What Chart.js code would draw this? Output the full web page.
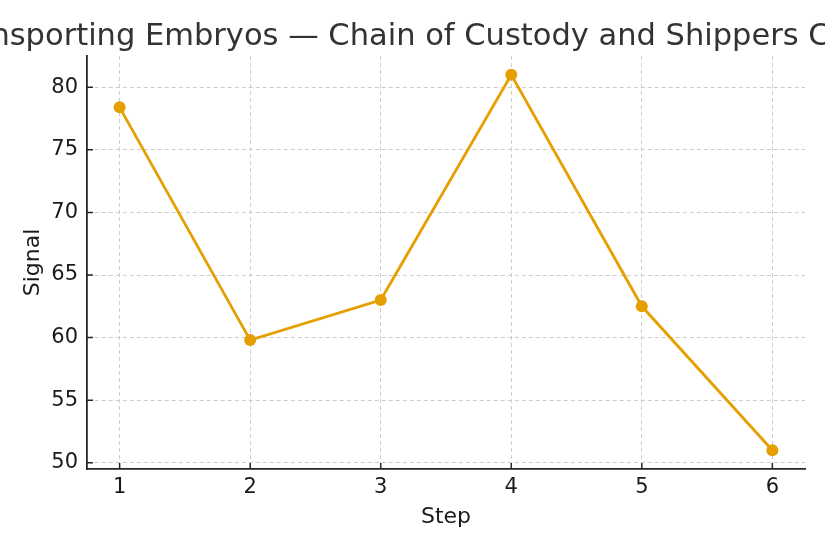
<!DOCTYPE html>
<html>
<head>
<meta charset="utf-8">
<script src="https://cdn.jsdelivr.net/npm/chart.js@4/dist/chart.umd.min.js"></script>
<style>
  html, body { margin: 0; padding: 0; background: #fff; }
  #wrap { width: 825px; height: 550px; position: relative; }
</style>
</head>
<body>
<div id="wrap"><canvas id="graph"></canvas></div>
<script>
// chart values
const titleText = 'Transporting Embryos \u2014 Chain of Custody and Shippers Checklist';
const steps = [1, 2, 3, 4, 5, 6];
const signal = [78.4, 59.8, 63.0, 81.0, 62.5, 51.0];
const yTicks = [50, 55, 60, 65, 70, 75, 80];

const FONT = "'DejaVu Sans', sans-serif";
const lineColor = '#E69F00';
const spineColor = '#262626';
const textColor = '#1a1a1a';

// title wider than the canvas, drawn without squeezing; plus inward tick marks
const extras = {
	id: 'extras',
	afterDraw(chart) {
		const ctx = chart.ctx;
		const area = chart.chartArea;
		const xs = chart.scales.x, ys = chart.scales.y;
		ctx.save();
		ctx.strokeStyle = spineColor;
		ctx.lineWidth = 1.5;
		ctx.beginPath();
		xs.ticks.forEach(function(t) {
			let px = xs.getPixelForValue(t.value);
			ctx.moveTo(px, area.bottom);
			ctx.lineTo(px, area.bottom - 6);
		});
		ys.ticks.forEach(function(t) {
			let py = ys.getPixelForValue(t.value);
			ctx.moveTo(area.left, py);
			ctx.lineTo(area.left + 6, py);
		});
		ctx.stroke();

		ctx.fillStyle = '#333333';
		ctx.font = '30.5px ' + FONT;
		ctx.textAlign = 'center';
		ctx.textBaseline = 'alphabetic';
		ctx.fillText(titleText, (area.left + area.right) / 2, 45);
		ctx.restore();
	}
};

const graphCtx = document.getElementById('graph').getContext('2d');
const chart = new Chart(graphCtx, {
	type: 'line',
	data: {
		datasets: [{
			label: 'Signal',
			data: steps.map(function(s, i) { return {x: s, y: signal[i]}; }),
			borderColor: lineColor,
			backgroundColor: lineColor,
			borderWidth: 2.8,
			pointRadius: 6,
			pointHoverRadius: 6,
			pointBorderWidth: 0,
			lineTension: 0,
			fill: false
		}]
	},
	options: {
		responsive: true,
		maintainAspectRatio: false,
		animation: false,
		layout: { padding: { top: 56, right: 20, left: 0, bottom: 0 } },
		plugins: {
			legend: { display: false },
			title: { display: false },
			tooltip: { enabled: false }
		},
		scales: {
			x: {
				type: 'linear',
				min: 0.75,
				max: 6.25,
				afterBuildTicks: function(scale) {
					scale.ticks = steps.map(function(v) { return {value: v}; });
				},
				afterFit: function(scale) { scale.height = 81; },
				grid: {
					color: '#cccccc',
					lineWidth: 1,
					drawTicks: false
				},
				border: { display: true, color: spineColor, width: 1.8, dash: [4, 3] },
				ticks: {
					color: textColor,
					font: { family: FONT, size: 21 },
					padding: 6,
					maxRotation: 0
				},
				title: {
					display: true,
					text: 'Step',
					color: textColor,
					font: { family: FONT, size: 22 },
					padding: { top: 0, bottom: 20 }
				}
			},
			y: {
				type: 'linear',
				min: 49.5,
				max: 82.5,
				afterBuildTicks: function(scale) {
					scale.ticks = yTicks.map(function(v) { return {value: v}; });
				},
				afterFit: function(scale) { scale.width = 87; },
				grid: {
					color: '#cccccc',
					lineWidth: 1,
					drawTicks: false
				},
				border: { display: true, color: spineColor, width: 1.8, dash: [4, 3] },
				ticks: {
					color: textColor,
					font: { family: FONT, size: 21 },
					padding: 9
				},
				title: {
					display: true,
					text: 'Signal',
					color: textColor,
					font: { family: FONT, size: 22 },
					padding: { top: 20, bottom: 0 }
				}
			}
		}
	},
	plugins: [extras]
});
</script>
</body>
</html>
